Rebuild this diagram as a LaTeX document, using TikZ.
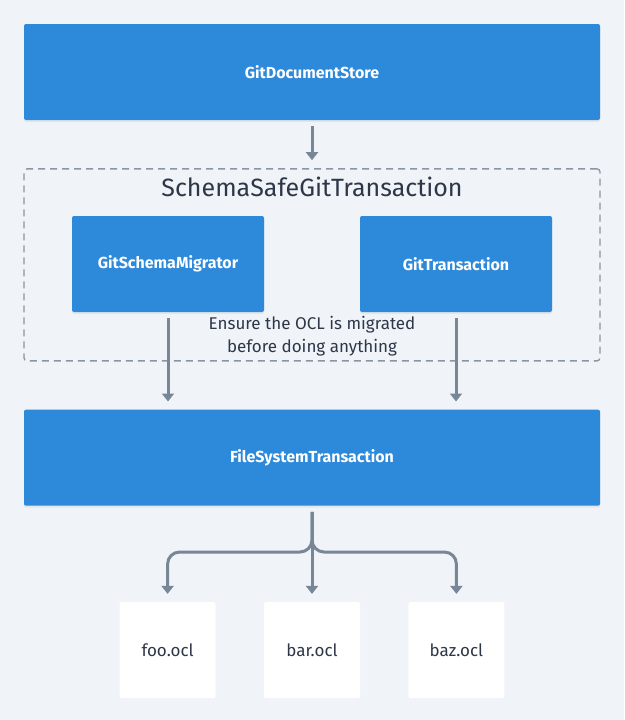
\documentclass[tikz,border=0pt]{standalone}
\usepackage{fontspec}
\setmainfont{Fira Sans}
\usepackage{xcolor}
\usetikzlibrary{arrows.meta, positioning, shadows}

\definecolor{bgcol}{HTML}{F0F3F7}
\definecolor{boxblue}{HTML}{2D89D9}
\definecolor{flowgray}{HTML}{778797}
\definecolor{dashgray}{HTML}{8A96A3}
\definecolor{textdark}{HTML}{2D3748}

\tikzset{
  bluebox/.style={draw=none, fill=boxblue, rounded corners=2pt, inner sep=0pt,
    text=white, font=\fontsize{16}{18}\selectfont\bfseries,
    drop shadow={opacity=0.10, shadow xshift=0pt, shadow yshift=-2pt}},
  filebox/.style={draw=none, fill=white, rounded corners=2pt, inner sep=0pt,
    minimum width=96pt, minimum height=96pt, text=textdark,
    font=\fontsize{17}{19}\selectfont},
  groupbox/.style={draw=dashgray, line width=1.3pt, dash pattern=on 7pt off 5pt,
    rounded corners=3pt, minimum width=576pt, minimum height=192pt, inner sep=0pt},
  flow/.style={draw=flowgray, line width=3pt, shorten <=6pt, shorten >=8pt,
    -{Triangle[width=12pt, length=8pt]}},
}

\begin{document}
\begin{tikzpicture}[x=1pt, y=-1pt]
  \fill[bgcol] (0,0) rectangle (624,720);
  \useasboundingbox (0,0) rectangle (624,720);

  \node[bluebox, minimum width=576pt, minimum height=96pt] (store) at (312,72) {GitDocumentStore};
  \node[groupbox, below=48pt of store] (safe) {};
  \node[text=textdark, font=\fontsize{25}{27}\selectfont] (safetitle) at (312,187) {SchemaSafeGitTransaction};
  \node[bluebox, minimum width=192pt, minimum height=96pt] (migrator) at (168,264) {GitSchemaMigrator};
  \node[bluebox, minimum width=192pt, minimum height=96pt] (gittx) at (456,264) {GitTransaction};
  \node[text=textdark, align=center, font=\fontsize{17}{23}\selectfont] (note) at (312,336)
    {Ensure the OCL is migrated\\before doing anything};
  \node[bluebox, minimum width=576pt, minimum height=96pt, below=48pt of safe] (fstx) {FileSystemTransaction};

  \node[filebox, below=96pt of fstx] (bar) {bar.ocl};
  \node[filebox, left=48pt of bar] (foo) {foo.ocl};
  \node[filebox, right=48pt of bar] (baz) {baz.ocl};

  \coordinate (split) at (312,552);

  \draw[flow] (store) -- (safe);
  \draw[flow] (migrator) -- (migrator |- fstx.north);
  \draw[flow] (gittx) -- (gittx |- fstx.north);
  \draw[flow, rounded corners=12pt] (fstx.south) -- (split) -| (foo.north);
  \draw[flow, rounded corners=12pt] (fstx.south) -- (split) -| (baz.north);
  \draw[flow] (fstx.south) -- (bar.north);
\end{tikzpicture}
\end{document}
